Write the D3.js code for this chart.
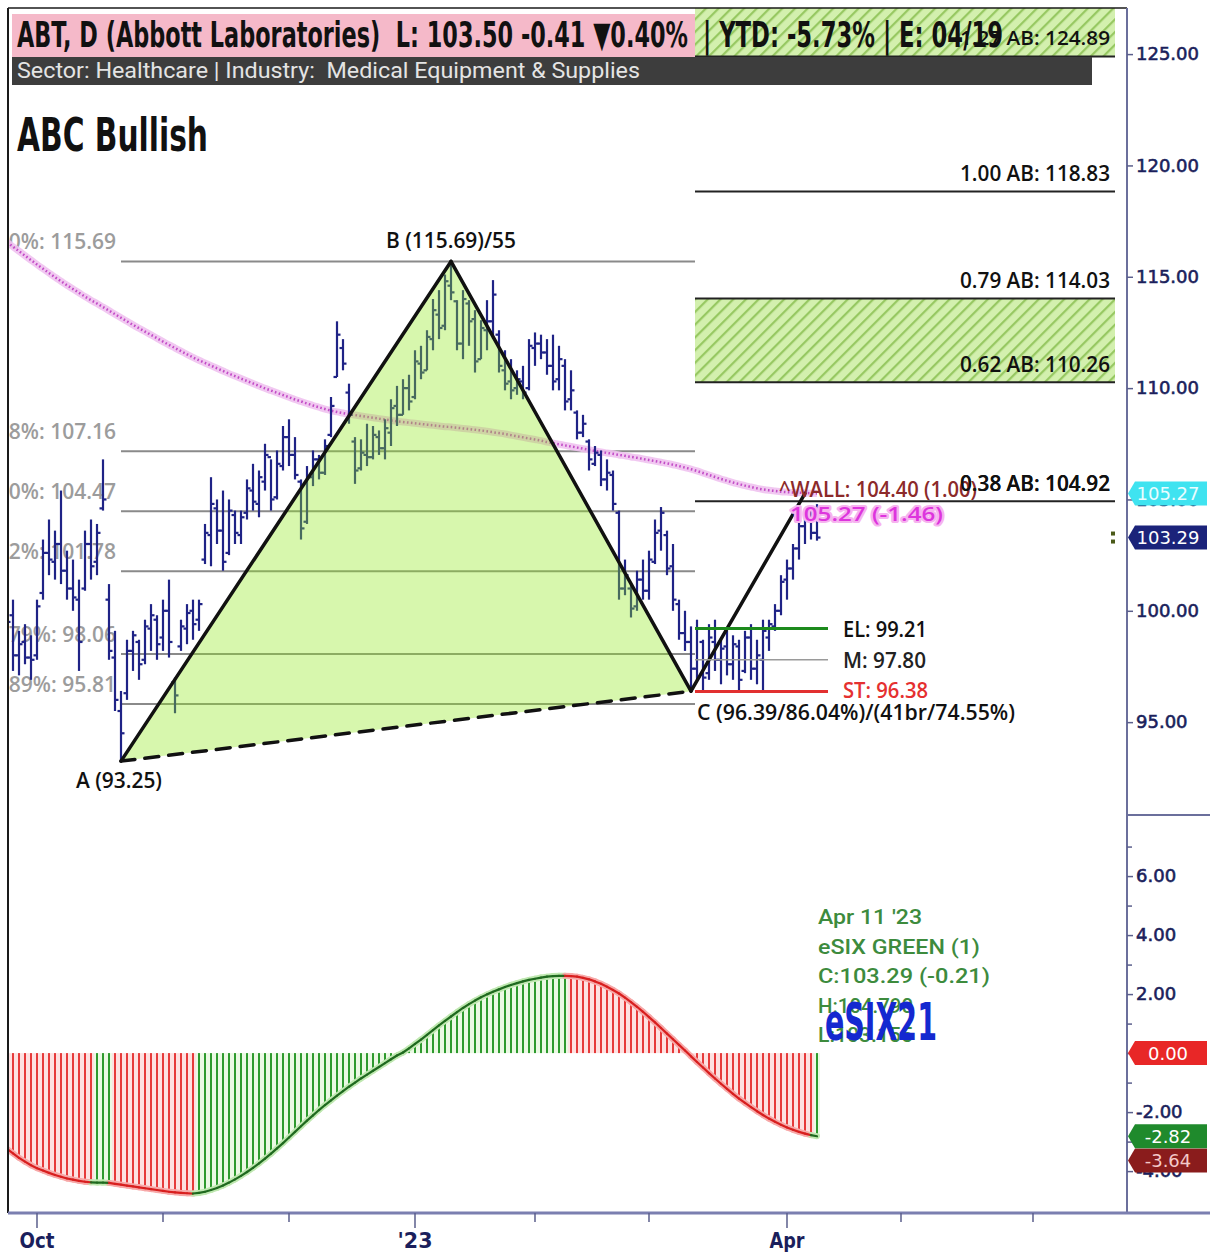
<!DOCTYPE html>
<html><head><meta charset="utf-8">
<script src="https://cdn.jsdelivr.net/npm/d3@7"></script>
<style>body{margin:0;background:#fff}svg{display:block}text{white-space:pre}</style>
</head><body><svg id="c" width="1210" height="1253"></svg>
<script>
// ---------------- DATA ----------------
const ticker = "ABT, D (Abbott Laboratories)  L: 103.50 -0.41 \u25BC0.40%";
const tickerTail = "| YTD: -5.73% | E: 04/19";
const sectorText = "Sector: Healthcare | Industry:  Medical Equipment & Supplies";
const patternTitle = "ABC Bullish";
const startDate = "2022-09-26";
const holidays = ["2022-11-24","2022-12-26","2023-01-02","2023-01-16","2023-02-20","2023-04-07","2023-05-29","2023-06-19"];
const tickMonths = ["2022-10","2022-11","2022-12","2023-01","2023-02","2023-03","2023-04","2023-05","2023-06"];
const tickLabels = ["Oct","","","'23","","","Apr","",""];

const opens = [98.5,99.8,98.0,98.6,97.9,98.0,100.8,102.6,102.2,103.0,
101.8,101.0,100.5,101.0,103.0,102.2,104.6,100.5,97.9,95.5,
96.3,98.2,98.6,97.8,99.2,99.6,98.8,100.0,96.8,98.4,
99.2,100.0,99.6,102.3,103.4,104.6,103.6,102.6,104.3,103.4,
104.4,105.4,104.8,105.8,106.9,105.1,106.5,107.8,107.0,105.8,
104.0,106.0,106.8,106.2,107.9,110.5,111.8,109.8,107.6,106.4,
107.0,106.9,107.8,107.3,108.0,109.2,108.8,110.0,109.6,111.1,
110.8,112.2,113.3,112.8,114.6,113.9,112.0,113.8,113.1,111.3,
112.6,113.0,112.4,110.8,110.3,110.0,110.3,110.0,111.8,112.0,
111.6,111.0,110.4,111.0,109.5,108.9,108.0,107.6,106.6,107.0,
105.9,106.1,104.4,101.0,101.0,100.2,101.4,100.9,102.2,103.6,
103.4,102.0,100.3,99.0,98.6,97.4,98.6,97.2,98.6,97.8,
98.4,97.6,98.4,97.3,98.8,97.4,97.8,98.8,99.3,100.0,
101.4,101.9,102.8,103.8,104.2,103.5];
const highs = [100.9,100.5,99.1,99.4,98.9,100.5,103.2,104.1,103.6,105.4,
102.7,102.3,101.4,103.6,104.1,103.9,106.8,101.2,99.1,96.4,
98.7,99.1,98.7,99.6,100.3,99.8,100.5,101.4,97.0,99.6,
100.3,100.5,100.5,103.9,106.0,105.0,105.4,105.0,104.5,104.5,
105.9,106.6,106.3,107.5,106.8,107.2,108.3,108.6,107.8,105.9,
106.5,107.2,107.0,107.7,109.6,113.0,112.2,110.2,107.8,107.7,
108.4,108.3,108.1,108.6,109.5,110.1,110.4,110.6,111.7,111.9,
112.6,114.0,114.4,115.1,115.69,113.95,114.4,113.95,113.5,113.05,
113.95,114.85,112.6,111.7,111.3,110.8,111.0,112.2,112.5,112.4,
112.2,112.4,111.9,111.3,110.8,109.0,108.8,107.7,107.4,107.2,
106.8,106.3,104.5,102.3,101.2,101.8,102.3,102.7,104.1,104.66,
103.6,103.0,100.5,100.0,99.3,99.6,98.7,99.4,99.6,98.7,
99.1,98.9,98.7,99.1,99.4,98.7,99.6,99.6,100.3,101.6,
102.3,103.0,104.1,104.5,104.5,104.79];
const lows = [97.8,97.3,97.1,97.6,96.9,97.8,100.5,101.6,101.4,101.2,
100.5,100.0,97.3,100.9,101.4,101.6,104.5,97.8,95.5,93.25,
96.0,97.3,96.9,97.6,98.2,97.8,98.2,97.9,95.4,98.2,
98.5,98.7,99.1,102.1,102.0,103.0,101.8,102.5,103.0,103.0,
104.1,104.5,104.2,105.4,104.5,105.0,106.3,106.5,105.9,103.2,
103.9,105.6,105.9,106.1,107.8,110.5,110.8,108.4,105.7,106.3,
106.5,106.8,107.0,106.8,107.4,108.3,108.8,109.0,109.5,110.4,
110.8,111.7,112.2,112.6,113.95,111.7,111.3,111.9,110.7,111.3,
111.7,112.2,110.7,109.9,109.5,109.7,109.5,109.9,111.0,111.3,
110.6,109.9,109.9,109.0,109.0,107.7,107.8,106.3,106.5,105.6,
105.4,104.5,100.5,100.7,99.7,100.0,100.5,100.5,102.1,102.7,
101.6,100.0,98.7,98.2,96.39,96.9,96.4,96.9,97.3,96.7,
97.1,96.9,96.4,97.2,96.9,96.7,96.4,98.2,99.1,99.8,
100.5,101.4,102.3,103.0,103.2,103.15];
const closes = [99.5,98.0,98.5,97.9,97.8,100.2,102.6,102.3,103.0,101.8,
101.0,100.6,98.6,103.0,102.0,103.5,105.0,98.2,96.0,94.5,
98.2,98.9,97.6,99.3,99.8,98.5,100.0,98.6,96.2,99.3,
99.9,99.4,100.3,103.5,104.8,103.6,102.2,104.5,103.5,104.2,
105.5,104.9,106.0,107.0,105.0,106.6,107.8,107.0,106.1,103.7,
106.0,106.8,106.2,107.4,109.2,112.4,111.1,108.8,106.3,107.1,
106.9,107.9,107.3,108.2,109.1,108.8,110.0,109.4,111.2,110.7,
112.3,113.5,112.7,114.8,114.3,112.0,114.0,113.0,111.2,112.7,
113.0,114.2,111.0,110.2,109.9,110.4,109.8,111.9,112.0,111.6,
111.0,110.3,111.3,109.4,109.9,108.0,108.4,106.8,107.1,105.9,
106.2,104.8,101.0,101.6,100.1,101.4,100.9,102.3,103.5,104.4,
101.9,100.5,99.0,98.6,97.4,99.2,97.0,98.8,97.8,98.3,
97.6,98.5,96.9,98.8,97.4,98.0,99.1,99.4,100.0,101.3,
101.9,102.8,103.8,104.2,103.5,103.29];
const maValues = [116.55,116.35,116.15,115.95,115.75,115.55,115.36,115.17,114.98,114.80,
114.62,114.45,114.28,114.11,113.95,113.80,113.64,113.48,113.32,113.16,
113.00,112.84,112.69,112.54,112.39,112.24,112.09,111.94,111.80,111.66,
111.52,111.38,111.25,111.13,111.01,110.89,110.77,110.65,110.54,110.43,
110.32,110.21,110.10,109.99,109.89,109.79,109.69,109.59,109.49,109.40,
109.31,109.22,109.14,109.06,108.99,108.93,108.88,108.83,108.79,108.75,
108.71,108.67,108.63,108.59,108.55,108.51,108.48,108.45,108.42,108.39,
108.36,108.33,108.30,108.27,108.25,108.22,108.19,108.16,108.13,108.10,
108.06,108.02,107.98,107.94,107.89,107.84,107.79,107.74,107.69,107.64,
107.58,107.53,107.48,107.43,107.38,107.33,107.28,107.23,107.18,107.13,
107.09,107.05,107.00,106.96,106.91,106.87,106.82,106.77,106.72,106.67,
106.62,106.56,106.50,106.43,106.36,106.28,106.19,106.10,106.01,105.92,
105.84,105.76,105.69,105.62,105.56,105.50,105.45,105.41,105.38,105.35,
105.33,105.31,105.30,105.29,105.28,105.27];
const esixValues = [-3.25,-3.40,-3.55,-3.68,-3.80,-3.90,-3.98,-4.06,-4.13,-4.19,
-4.25,-4.29,-4.33,-4.36,-4.38,-4.39,-4.39,-4.40,-4.43,-4.46,
-4.49,-4.52,-4.55,-4.58,-4.61,-4.64,-4.67,-4.70,-4.72,-4.74,
-4.75,-4.76,-4.74,-4.70,-4.64,-4.57,-4.49,-4.39,-4.28,-4.16,
-4.03,-3.89,-3.74,-3.58,-3.41,-3.23,-3.05,-2.86,-2.67,-2.48,
-2.29,-2.11,-1.93,-1.76,-1.60,-1.44,-1.29,-1.14,-1.00,-0.86,
-0.73,-0.60,-0.47,-0.34,-0.21,-0.08,0.02,0.16,0.31,0.46,
0.62,0.78,0.94,1.09,1.24,1.39,1.53,1.66,1.78,1.89,
1.99,2.08,2.16,2.24,2.31,2.37,2.43,2.48,2.52,2.56,
2.59,2.61,2.62,2.62,2.61,2.59,2.55,2.50,2.43,2.35,
2.25,2.14,2.02,1.88,1.73,1.57,1.40,1.22,1.04,0.85,
0.66,0.47,0.28,0.09,-0.11,-0.30,-0.49,-0.68,-0.86,-1.04,
-1.21,-1.38,-1.54,-1.69,-1.83,-1.97,-2.10,-2.22,-2.33,-2.43,
-2.52,-2.60,-2.67,-2.73,-2.78,-2.82];
const esixRuns = [["R",15],["G",3],["R",14],["G",62],["R",41],["G",1]];

const abcNames = ["A","B","C"];
const abcIndex = [19,74,114];
const abcValues = [93.25,115.69,96.39];
const abcLabels = ["A (93.25)","B (115.69)/55","C (96.39/86.04%)/(41br/74.55%)"];
const dIndex = 133, dValue = 105.27;
const retrLabels = ["0%: 115.69","38%: 107.16","50%: 104.47","62%: 101.78","79%: 98.06","89%: 95.81"];
const retrValues = [115.69,107.16,104.47,101.78,98.06,95.81];
const abLabels = ["1.27 AB: 124.89","1.00 AB: 118.83","0.79 AB: 114.03","0.62 AB: 110.26","0.38 AB: 104.92"];
const abValues = [124.89,118.83,114.03,110.26,104.92];
const tradeLabels = ["EL: 99.21","M: 97.80","ST: 96.38"];
const tradeValues = [99.21,97.80,96.38];
const wallLabel = "^WALL: 104.40 (1.00)";
const maLabel = "105.27 (-1.46)";
const priceTicks = [95,100,105,110,115,120,125];
const esixTicks = [-4,-2,0,2,4,6];
const esixMinor = [-3,-1,1,3,5,7];
const priceBadges = [{v:105.27,t:"105.27"},{v:103.29,t:"103.29"}];
const esixBadges = [{v:0,t:"0.00"},{v:-2.82,t:"-2.82"},{v:-3.64,t:"-3.64"}];
const infoLines = ["Apr 11 '23","eSIX GREEN (1)","C:103.29 (-0.21)","H:104.790","L:103.155"];
const esixTitle = "eSIX21";

// ---------------- LAYOUT ----------------
const COND = "'DejaVu Sans Condensed','Liberation Sans Narrow','Roboto Condensed','DejaVu Sans',sans-serif";
const LBL = "'Open Sans','Noto Sans',sans-serif";
const AX = "'DejaVu Sans',Verdana,sans-serif";
const L = 8, R = 1127, T = 8, PB = 815, IB = 1213;

const svg = d3.select("#c");
const defs = svg.append("defs");
svg.append("rect").attr("width",1210).attr("height",1253).attr("fill","#fff");

const n = opens.length;
const x = d3.scaleLinear().domain([0, 186.667]).range([7, R]);
const yP = d3.scaleLinear().domain([90.83, 127.07]).range([PB, T]);
const yI = d3.scaleLinear().domain([-5.42, 8.07]).range([IB, PB]);

// trading calendar
const hol = new Set(holidays);
const fmtD = d3.timeFormat("%Y-%m-%d"), fmtM = d3.timeFormat("%Y-%m");
const days = [];
{ let d = d3.timeParse("%Y-%m-%d")(startDate);
  while (days.length < 190) { const wd = d.getDay(); if (wd>0 && wd<6 && !hol.has(fmtD(d))) days.push(new Date(d)); d = d3.timeDay.offset(d,1); } }
const monthIdx = tickMonths.map(m => days.findIndex(d => fmtM(d) === m));

defs.append("clipPath").attr("id","cp").append("rect").attr("x",L).attr("y",T).attr("width",R-L).attr("height",PB-T);
defs.append("clipPath").attr("id","ci").append("rect").attr("x",L).attr("y",PB).attr("width",R-L).attr("height",IB-PB);
const hatch = defs.append("pattern").attr("id","hatch").attr("patternUnits","userSpaceOnUse")
  .attr("width",9).attr("height",9).attr("patternTransform","rotate(45)");
hatch.append("rect").attr("width",9).attr("height",9).attr("fill","#d3f0ae");
hatch.append("line").attr("x1",1).attr("x2",1).attr("y1",0).attr("y2",9).attr("stroke","#97c862").attr("stroke-width",2.5);

function txt(g, s, xx, yy, o) {
  const t = g.append("text").attr("x",xx).attr("y",yy).text(s)
    .attr("font-family",o.fam||LBL).attr("font-size",o.size||20).attr("font-weight",o.w||600)
    .attr("fill",o.fill||"#111").attr("text-anchor",o.anchor||"start");
  if (o.len) t.attr("textLength",o.len).attr("lengthAdjust","spacingAndGlyphs");
  if (o.stroke) t.attr("stroke",o.stroke).attr("stroke-width",o.sw||3).attr("paint-order","stroke").attr("stroke-linejoin","round");
  return t;
}

const price = svg.append("g").attr("clip-path","url(#cp)");
const projL = x(abcIndex[2]) + 4, projR = R - 12;

// projection zones
price.append("rect").attr("x",projL).attr("width",projR-projL).attr("y",T).attr("height",yP(abValues[0])-T).attr("fill","url(#hatch)");
price.append("rect").attr("x",projL).attr("width",projR-projL).attr("y",yP(abValues[2])).attr("height",yP(abValues[3])-yP(abValues[2])).attr("fill","url(#hatch)");

// retracement lines + labels
retrValues.forEach((v,k) => {
  price.append("line").attr("x1",x(abcIndex[0])).attr("x2",projL).attr("y1",yP(v)).attr("y2",yP(v)).attr("stroke","#8a8a8a").attr("stroke-width",2);
  txt(price, retrLabels[k], 116, yP(v)-12, {size:21, fill:"#9c9c9c", anchor:"end", w:600});
});
// AB projection lines + labels
abValues.forEach((v,k) => {
  price.append("line").attr("x1",projL).attr("x2",projR).attr("y1",yP(v)).attr("y2",yP(v)).attr("stroke","#222").attr("stroke-width",2);
  if (k>0) txt(price, abLabels[k], 1110, yP(v)-10, {size:22, fill:"#111", anchor:"end", len:150, fam:LBL});
});

// moving average
const maLine = d3.line().x((d,i)=>x(i)).y(d=>yP(d)).curve(d3.curveMonotoneX);
price.append("path").attr("d",maLine(maValues)).attr("fill","none").attr("stroke","#f0c2f0").attr("stroke-width",7).attr("opacity",0.9);
price.append("path").attr("d",maLine(maValues)).attr("fill","none").attr("stroke","#c24cc6").attr("stroke-width",2.5).attr("stroke-dasharray","1.6,2.4");

// OHLC bars
const bars = d3.range(n).map(i => ({i, o:opens[i], h:highs[i], l:lows[i], c:closes[i]}));
const bg = price.append("g").attr("stroke","#1f2386").attr("stroke-width",2.2);
bg.selectAll(".hl").data(bars).join("line").attr("x1",d=>x(d.i)).attr("x2",d=>x(d.i)).attr("y1",d=>yP(d.h)).attr("y2",d=>yP(d.l));
bg.selectAll(".op").data(bars).join("line").attr("x1",d=>x(d.i)-3.5).attr("x2",d=>x(d.i)).attr("y1",d=>yP(d.o)).attr("y2",d=>yP(d.o));
bg.selectAll(".cl").data(bars).join("line").attr("x1",d=>x(d.i)).attr("x2",d=>x(d.i)+3.5).attr("y1",d=>yP(d.c)).attr("y2",d=>yP(d.c));

// ABC triangle fill over bars
const pts = abcIndex.map((ix,k)=>[x(ix), yP(abcValues[k])]);
price.append("path").attr("d", d3.line()(pts)+"Z").attr("fill","#90e81d").attr("opacity",0.36);
// legs
const leg = (a,b,dash) => price.append("line").attr("x1",a[0]).attr("y1",a[1]).attr("x2",b[0]).attr("y2",b[1])
  .attr("stroke","#111").attr("stroke-width",3.5).attr("stroke-dasharray",dash||null).attr("stroke-linecap","round");
leg(pts[0],pts[1]); leg(pts[1],pts[2]); leg(pts[0],pts[2],"14,10");
leg(pts[2],[x(dIndex), yP(dValue)]);

// trade levels
const tradeCol = ["#1c8a1c","#9a9a9a","#e23030"];
const tradeW = [3,1.5,3];
tradeValues.forEach((v,k)=>{
  price.append("line").attr("x1",projL).attr("x2",x(dIndex)+23).attr("y1",yP(v)).attr("y2",yP(v)).attr("stroke",tradeCol[k]).attr("stroke-width",tradeW[k]);
});
txt(price, tradeLabels[0], 843, 637, {size:22, fill:"#111", len:84});
txt(price, tradeLabels[1], 843, 668, {size:22, fill:"#222", len:83});
txt(price, tradeLabels[2], 843, 698, {size:22, fill:"#e53030", len:85});

// point labels
txt(price, abcLabels[0], pts[0][0]-2, 788, {size:22, fill:"#111", anchor:"middle", len:86});
txt(price, abcLabels[1], pts[1][0], 248, {size:22, fill:"#111", anchor:"middle", len:130});
txt(price, abcLabels[2], 697, 720, {size:22, fill:"#111", len:318});
txt(price, wallLabel, 779, 497, {size:21, fill:"#8c2a2a", len:198});
txt(price, abLabels[4], 1110, yP(abValues[4])-10, {size:22, fill:"#111", anchor:"end", len:150});
txt(price, maLabel, 790, 521, {size:19, fill:"#dd35dd", stroke:"#f6b3ef", sw:4, len:153});

// header
svg.append("rect").attr("x",12).attr("y",14).attr("width",683).attr("height",43).attr("fill","#f5b9c9");
txt(svg, ticker, 17, 47, {fam:COND, w:"bold", size:36, fill:"#111", len:671});
txt(svg, tickerTail, 703, 47, {fam:COND, w:"bold", size:36, fill:"#111", len:300});
txt(svg, abLabels[0], 1110, 45, {size:19, fill:"#111", anchor:"end", len:150});
svg.append("rect").attr("x",12).attr("y",57).attr("width",1080).attr("height",28).attr("fill","#3d3d3d");
txt(svg, sectorText, 17, 78, {fam:"Roboto,'Liberation Sans',sans-serif", w:400, size:22, fill:"#e4e4e4", len:623});
txt(svg, patternTitle, 17, 151, {fam:COND, w:"bold", size:46, fill:"#111", len:191});

// ---------------- INDICATOR ----------------
const states = esixRuns.flatMap(([s,c]) => Array(c).fill(s));
const ind = svg.append("g").attr("clip-path","url(#ci)");
const y0 = yI(0);
const colLine = s => s==="G" ? "#2e9a2e" : "#e63a3a";
const colFill = s => s==="G" ? "#e2f6d8" : "#fcd4d4";
const colEdge = s => s==="G" ? "#1f6a1f" : "#d81f1f";
const ed = esixValues.map((v,i)=>({i,v,s:states[i]}));
ind.selectAll(".f").data(ed).join("rect").attr("x",d=>x(d.i)-3).attr("width",6)
  .attr("y",d=>Math.min(y0,yI(d.v))).attr("height",d=>Math.abs(yI(d.v)-y0)).attr("fill",d=>colFill(d.s)).attr("opacity",0.7);
ind.selectAll(".b").data(ed).join("line").attr("x1",d=>x(d.i)).attr("x2",d=>x(d.i)).attr("y1",y0).attr("y2",d=>yI(d.v))
  .attr("stroke",d=>colLine(d.s)).attr("stroke-width",2);
const segs = ed.slice(1).map((d,k)=>({a:ed[k], b:d}));
ind.selectAll(".g").data(segs).join("line").attr("x1",d=>x(d.a.i)).attr("x2",d=>x(d.b.i)).attr("y1",d=>yI(d.a.v)).attr("y2",d=>yI(d.b.v))
  .attr("stroke",d=>d.b.s==="G"?"#bfe8b0":"#f7a8a8").attr("stroke-width",6).attr("stroke-linecap","round");
ind.selectAll(".e").data(segs).join("line").attr("x1",d=>x(d.a.i)).attr("x2",d=>x(d.b.i)).attr("y1",d=>yI(d.a.v)).attr("y2",d=>yI(d.b.v))
  .attr("stroke",d=>colEdge(d.b.s)).attr("stroke-width",2.2).attr("stroke-linecap","round");

infoLines.forEach((s,k)=>{
  const lens=[104,162,172,95,95];
  txt(svg, s, 818, 924+k*29.5, {fam:"Roboto,'Open Sans',sans-serif", w:500, size:21, fill:"#3d8b3d", len:lens[k]});
});
txt(svg, esixTitle, 825, 1040, {fam:COND, w:"bold", size:52, fill:"#1428d0", len:112});

// ---------------- FRAME & AXES ----------------
svg.append("line").attr("x1",L).attr("x2",L).attr("y1",T).attr("y2",IB).attr("stroke","#1a1a1a").attr("stroke-width",2);
svg.append("line").attr("x1",L).attr("x2",R).attr("y1",T).attr("y2",T).attr("stroke","#1a1a1a").attr("stroke-width",1.5);
svg.append("line").attr("x1",R).attr("x2",R).attr("y1",T).attr("y2",IB).attr("stroke","#6b6f9c").attr("stroke-width",2);
svg.append("line").attr("x1",R).attr("x2",1210).attr("y1",PB).attr("y2",PB).attr("stroke","#6b6f9c").attr("stroke-width",2);
svg.append("line").attr("x1",L).attr("x2",1210).attr("y1",IB).attr("y2",IB).attr("stroke","#7b7fb0").attr("stroke-width",3);

const f2 = v => d3.format(".2f")(v).replace("\u2212","-");
const styleAxis = g => { g.select(".domain").remove(); g.selectAll(".tick line").attr("stroke","#5b5f8c").attr("stroke-width",1.5);
  g.selectAll(".tick text").attr("font-family",AX).attr("font-size",18).attr("fill","#1b1f5c").attr("stroke","#1b1f5c").attr("stroke-width",0.6); };
svg.append("g").attr("transform",`translate(${R},0)`)
  .call(d3.axisRight(yP).tickValues(priceTicks).tickFormat(f2).tickSize(6).tickPadding(3)).call(styleAxis);
svg.append("g").attr("transform",`translate(${R},0)`)
  .call(d3.axisRight(yI).tickValues(esixTicks).tickFormat(f2).tickSize(6).tickPadding(3)).call(styleAxis);
svg.append("g").attr("transform",`translate(${R},0)`)
  .call(d3.axisRight(yI).tickValues(esixMinor).tickFormat("").tickSize(5)).call(styleAxis);

// x axis
monthIdx.forEach((ix,k)=>{
  const xx = x(ix), major = tickLabels[k] !== "";
  svg.append("line").attr("x1",xx).attr("x2",xx).attr("y1",IB).attr("y2",IB+(major?15:9)).attr("stroke","#5b5f8c").attr("stroke-width",1.5);
  if (major) txt(svg, tickLabels[k], xx, 1248, {fam:COND, w:"bold", size:22, fill:"#1b1f5c", anchor:"middle", len:tickLabels[k].length>2?35:25});
});

// badges
function badge(yy, t, fill, tf) {
  const g = svg.append("g");
  g.append("path").attr("d",`M${R+1},${yy} L${R+8},${yy-12} L1207,${yy-12} L1207,${yy+12} L${R+8},${yy+12} Z`).attr("fill",fill);
  txt(g, t, 1168, yy+6.5, {fam:AX, w:400, size:18, fill:tf, anchor:"middle"});
}
badge(yP(priceBadges[0].v), priceBadges[0].t, "#3fe3f0", "#e9fdff");
badge(yP(priceBadges[1].v), priceBadges[1].t, "#1b237a", "#ffffff");
badge(yI(esixBadges[0].v), esixBadges[0].t, "#e82727", "#ffffff");
badge(yI(esixBadges[2].v), esixBadges[2].t, "#8a1c1c", "#f3c9c9");
badge(yI(esixBadges[1].v), esixBadges[1].t, "#1f8a2c", "#ffffff");
// last-bar marker
[-4,4].forEach(dy => svg.append("rect").attr("x",1111).attr("y",yP(closes[n-1])+dy-2).attr("width",4).attr("height",4).attr("fill","#4a5a18"));
</script></body></html>
